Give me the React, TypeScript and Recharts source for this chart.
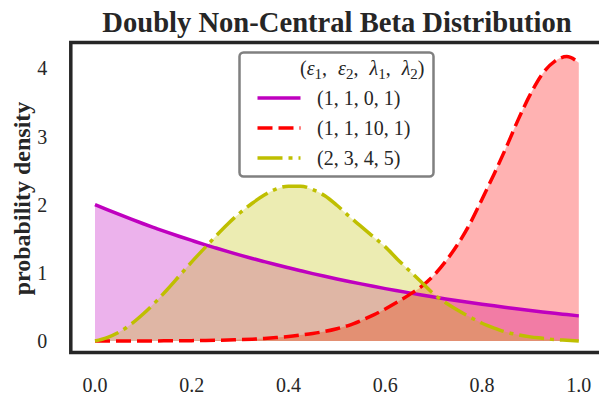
import React from 'react';
import { ComposedChart, Area, Line, XAxis, YAxis, ReferenceArea } from 'recharts';

const xs = [
  0, 0.025, 0.05, 0.075, 0.1, 0.125, 0.15, 0.175, 0.2, 0.225, 0.25, 0.275, 0.3, 0.325,
  0.35, 0.375, 0.4, 0.425, 0.45, 0.475, 0.5, 0.525, 0.55, 0.575, 0.6, 0.625, 0.65, 0.675,
  0.7, 0.725, 0.75, 0.775, 0.8, 0.825, 0.85, 0.875, 0.9, 0.925, 0.95, 0.975, 1.0,
];

// (1, 1, 0, 1)
const seriesA = [
  2.0, 1.926, 1.855, 1.786, 1.719, 1.655, 1.592, 1.532, 1.474, 1.417, 1.363, 1.31, 1.259, 1.21,
  1.163, 1.117, 1.073, 1.03, 0.988, 0.948, 0.91, 0.873, 0.837, 0.802, 0.768, 0.736, 0.705, 0.675,
  0.646, 0.617, 0.59, 0.564, 0.539, 0.515, 0.492, 0.469, 0.447, 0.426, 0.406, 0.387, 0.368,
];

// (1, 1, 10, 1)
const seriesB = [
  0, 0, 0, 0, 0.001, 0.001, 0.002, 0.003, 0.005, 0.007, 0.01, 0.014, 0.02, 0.027,
  0.037, 0.05, 0.066, 0.087, 0.11, 0.14, 0.18, 0.23, 0.3, 0.38, 0.47, 0.57, 0.68, 0.8,
  0.96, 1.17, 1.42, 1.72, 2.08, 2.45, 2.84, 3.25, 3.62, 3.92, 4.1, 4.17, 4.08,
];

// (2, 3, 4, 5)
const seriesC = [
  0, 0.05, 0.13, 0.25, 0.4, 0.57, 0.76, 0.96, 1.16, 1.35, 1.54, 1.72, 1.88, 2.02,
  2.14, 2.23, 2.27, 2.27, 2.22, 2.13, 1.99, 1.83, 1.68, 1.53, 1.38, 1.2, 1.03, 0.86,
  0.69, 0.56, 0.45, 0.35, 0.26, 0.19, 0.13, 0.09, 0.06, 0.04, 0.02, 0.01, 0.0,
];

const xTicks = [0, 0.2, 0.4, 0.6, 0.8, 1.0];
const yTicks = [0, 1, 2, 3, 4];
const legendLabels = ['(1, 1, 0, 1)', '(1, 1, 10, 1)', '(2, 3, 4, 5)'];
const colors = ['#bf00bf', '#ff0000', '#bfbf00'];
const dashes = ['', '15 6', '25 6 4 6'];

const X_DOMAIN: [number, number] = [-0.05, 1.05];
const Y_DOMAIN: [number, number] = [-0.169, 4.377];

const data = xs.map((x, i) => ({ x, a: seriesA[i], b: seriesB[i], c: seriesC[i] }));

const FONT = '"Liberation Serif", "Times New Roman", serif';
const TXT = '#262626';

export default function App() {
  const keys = ['a', 'b', 'c'];
  return (
    <div style={{ position: 'absolute', left: 0, top: 0, width: 599, height: 396, overflow: 'hidden', background: '#fff' }}>
      <ComposedChart
        width={620}
        height={396}
        data={data}
        margin={{ top: 42.5, right: 17, bottom: 0, left: 0.8 }}
      >
        <XAxis
          dataKey="x"
          type="number"
          domain={X_DOMAIN}
          ticks={xTicks}
          tickFormatter={(v: number) => v.toFixed(1)}
          axisLine={false}
          tickLine={false}
          tickSize={0}
          tickMargin={25.5}
          height={43.5}
          interval={0}
          allowDataOverflow
          tick={{ fill: TXT, fontSize: 20, fontFamily: FONT }}
        />
        <YAxis
          type="number"
          domain={Y_DOMAIN}
          ticks={yTicks}
          axisLine={false}
          tickLine={false}
          tickSize={0}
          tickMargin={23.5}
          width={70}
          interval={0}
          allowDataOverflow
          tick={{ fill: TXT, fontSize: 20, fontFamily: FONT }}
        />
        {keys.map((k, i) => (
          <Area
            key={'area-' + k}
            dataKey={k}
            type="monotone"
            baseValue={0}
            fill={colors[i]}
            fillOpacity={0.3}
            stroke="none"
            isAnimationActive={false}
            dot={false}
            activeDot={false}
          />
        ))}
        {keys.map((k, i) => (
          <Line
            key={'line-' + k}
            dataKey={k}
            type="monotone"
            stroke={colors[i]}
            strokeWidth={3.5}
            strokeDasharray={dashes[i] || undefined}
            dot={false}
            activeDot={false}
            isAnimationActive={false}
          />
        ))}
        <ReferenceArea
          x1={X_DOMAIN[0]}
          x2={X_DOMAIN[1]}
          y1={Y_DOMAIN[0]}
          y2={Y_DOMAIN[1]}
          fill="none"
          fillOpacity={0}
          stroke="#262626"
          strokeWidth={3.5}
          ifOverflow="visible"
        />
      </ComposedChart>
      <svg
        width={599}
        height={396}
        style={{ position: 'absolute', left: 0, top: 0, pointerEvents: 'none' }}
      >
        <text
          x={337}
          y={32}
          textAnchor="middle"
          fontFamily={FONT}
          fontWeight="bold"
          fontSize={28.6}
          fill={TXT}
        >
          Doubly Non-Central Beta Distribution
        </text>
        <text
          x={30}
          y={198.5}
          transform="rotate(-90 30 198.5)"
          textAnchor="middle"
          fontFamily={FONT}
          fontWeight="bold"
          fontSize={24}
          fill={TXT}
        >
          probability density
        </text>
        <rect x={239.5} y={52.5} width={194} height={124} rx={4} ry={4} fill="#fff" fillOpacity={0.85} stroke="#808080" strokeWidth={2.5} />
        <text x={300} y={75} fontFamily={FONT} fontSize={20} fill={TXT}>
          <tspan>(</tspan>
          <tspan fontStyle="italic">ε</tspan>
          <tspan fontSize={15} dy={4}>1</tspan>
          <tspan dy={-4}>,</tspan>
          <tspan fontStyle="italic" dx={11}>ε</tspan>
          <tspan fontSize={15} dy={4}>2</tspan>
          <tspan dy={-4}>,</tspan>
          <tspan fontStyle="italic" dx={11}>λ</tspan>
          <tspan fontSize={15} dy={4}>1</tspan>
          <tspan dy={-4}>,</tspan>
          <tspan fontStyle="italic" dx={11}>λ</tspan>
          <tspan fontSize={15} dy={4}>2</tspan>
          <tspan dy={-4}>)</tspan>
        </text>
        {legendLabels.map((lab, i) => (
          <g key={lab}>
            <line
              x1={257.5}
              x2={300.5}
              y1={98 + i * 30}
              y2={98 + i * 30}
              stroke={colors[i]}
              strokeWidth={3.5}
              strokeDasharray={dashes[i] || undefined}
            />
            <text x={317} y={105 + i * 30} fontFamily={FONT} fontSize={20} fill={TXT}>
              {lab}
            </text>
          </g>
        ))}
      </svg>
    </div>
  );
}
